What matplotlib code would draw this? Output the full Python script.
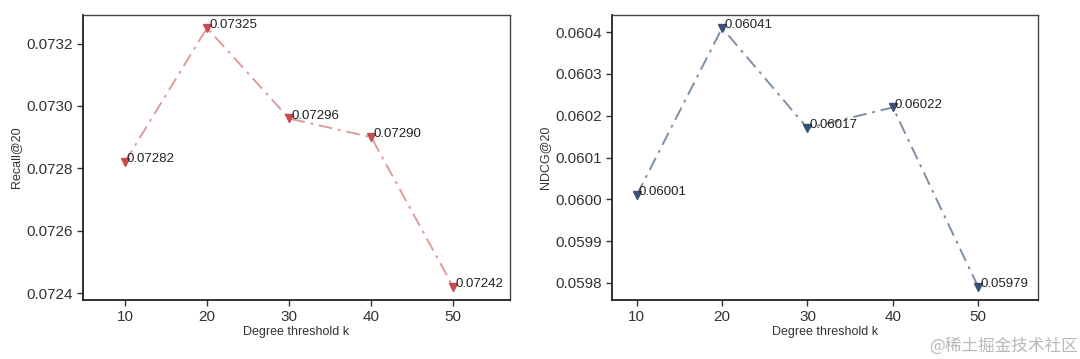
import numpy as np
import matplotlib
matplotlib.use('Agg')
import matplotlib.pyplot as plt

plt.rcParams['font.family'] = ['Liberation Sans', 'DejaVu Sans']

# Data
k_values = [10, 20, 30, 40, 50]
recall = [0.07282, 0.07325, 0.07296, 0.07290, 0.07242]
ndcg = [0.06001, 0.06041, 0.06017, 0.06022, 0.05979]
recall_labels = ['0.07282', '0.07325', '0.07296', '0.07290', '0.07242']
ndcg_labels = ['0.06001', '0.06041', '0.06017', '0.06022', '0.05979']

fig = plt.figure(figsize=(10.8, 3.59), dpi=100)
ax1 = fig.add_axes([83 / 1080, 1 - 300 / 359, 427 / 1080, 285 / 359])
ax2 = fig.add_axes([612 / 1080, 1 - 300 / 359, 426 / 1080, 285 / 359])


def draw(ax, y, labels, mcolor, lcolor, ylabel, yticks, ytl, xlim):
    ax.plot(k_values, y, linestyle=(0, (7, 3, 1.5, 3)), color=lcolor,
            linewidth=1.4, zorder=2)
    ax.plot(k_values, y, linestyle='none', marker='v', color=mcolor,
            markersize=6, zorder=3)
    for xv, yv, lab in zip(k_values, y, labels):
        ax.annotate(lab, (xv, yv), xytext=(1.5, 2), textcoords='offset points',
                    ha='left', va='center', fontsize=9.5, color='#222222')
    ax.set_xlim(*xlim)
    ax.set_xticks(k_values)
    ax.set_yticks(yticks)
    ax.set_yticklabels(ytl)
    ax.set_xlabel('Degree threshold k', fontsize=9, color='#333333', labelpad=1)
    ax.set_ylabel(ylabel, fontsize=9, color='#333333', labelpad=3)
    ax.tick_params(direction='out', length=4, width=1, labelsize=11,
                   colors='#333333', top=False, right=False)
    for s in ax.spines.values():
        s.set_color('#444444')
        s.set_linewidth(1.0)
    for s in ['left', 'bottom']:
        ax.spines[s].set_linewidth(1.3)
        ax.spines[s].set_color('#222222')


draw(ax1, recall, recall_labels, '#c84b4f', '#dc9c9c', 'Recall@20',
     [0.0724, 0.0726, 0.0728, 0.0730, 0.0732],
     ['0.0724', '0.0726', '0.0728', '0.0730', '0.0732'], (4.9, 56.9))
draw(ax2, ndcg, ndcg_labels, '#3b5077', '#7e8ea4', 'NDCG@20',
     [0.0598, 0.0599, 0.0600, 0.0601, 0.0602, 0.0603, 0.0604],
     ['0.0598', '0.0599', '0.0600', '0.0601', '0.0602', '0.0603', '0.0604'],
     (7.1, 57.0))

fig.text(0.998, 0.035, '@稀土掘金技术社区', ha='right', va='center',
         fontsize=12, color='#b8b8b8',
         family=['Noto Sans CJK SC', 'DejaVu Sans'])

fig.savefig('out.png', dpi=100)
